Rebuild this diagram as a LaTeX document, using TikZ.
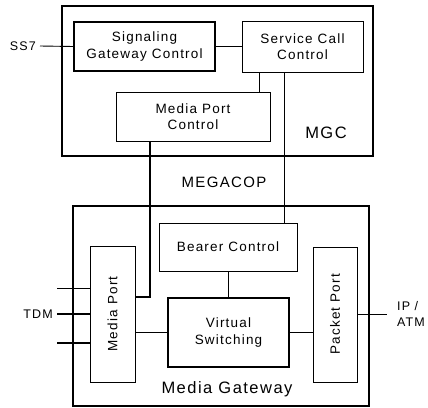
\documentclass[tikz,border=0pt]{standalone}
\usepackage{fontspec}
\setmainfont{Liberation Sans}[LetterSpace=9]
\usepackage{tikz}
\usetikzlibrary{positioning,calc}

\begin{document}
\begin{tikzpicture}[x=1pt,y=-1pt,
    blk/.style = {draw, line width=0.9pt, align=center, inner sep=0pt, font=\fontsize{13.5}{16.3}\selectfont},
    thk/.style = {line width=1.6pt}]
    \useasboundingbox (0,0) rectangle (428,407);
    % MGC side
    \node[draw, line width=1.2pt, minimum width=311, minimum height=150] (MGC) at (217.5,81) {};
    \node[blk, thk, minimum width=141, minimum height=49] (SGC) at (144.5,46.5) {Signaling\\Gateway Control};
    \node[blk, minimum width=121, minimum height=51] (SCC) at (302.5,46.5) {Service Call\\Control};
    \node[blk, minimum width=154, minimum height=49] (MPC) at (193,116.5) {Media Port\\Control};
    \node[font=\fontsize{16.5}{18}\selectfont] (MGCl) at (326,133) {MGC};
    \node[font=\fontsize{12.5}{14}\selectfont, left, inner sep=0pt] (SS7) at (36,46) {SS7};
    \draw[line width=0.9pt] (SS7.east) ++(4,0) -- (SGC.west);
    \draw[line width=0.9pt] (SGC.east) -- (SCC.west);
    \draw[line width=0.9pt] ([xshift=-43.5]SCC.south) -- ([xshift=66]MPC.north);
    % MEGACOP
    \node[font=\fontsize{15}{17}\selectfont] (MEGACOP) at (224,182) {MEGACOP};
    % Media Gateway side
    \node[draw, line width=1.2pt, minimum width=296, minimum height=200] (MG) at (221,306) {};
    \node[blk, minimum width=138, minimum height=48] (BC) at (228,247) {Bearer Control};
    \node[blk, minimum width=45, minimum height=136] (MP) at (112.5,314) {};
    \node[rotate=90, font=\fontsize{13.5}{16}\selectfont] at (MP) {Media Port};
    \node[blk, minimum width=44, minimum height=135] (PP) at (335,314.5) {};
    \node[rotate=90, font=\fontsize{13.5}{16}\selectfont] at (PP) {Packet Port};
    \node[blk, thk, minimum width=121, minimum height=69] (VS) at (228.5,332.5) {Virtual\\Switching};
    \node[font=\fontsize{16.5}{18}\selectfont] (MGl) at (227,389) {Media Gateway};
    \node[font=\fontsize{12.5}{14}\selectfont, left, inner sep=0pt] (TDM) at (53,314) {TDM};
    \node[font=\fontsize{12.5}{16}\selectfont, align=left, right, inner sep=0pt] (IPATM) at (397,314) {IP /\\ATM};
    \draw[line width=0.9pt] ([xshift=-18.5]SCC.south) -- ([xshift=56]BC.north);
    \draw[line width=1.2pt] ([xshift=-43]MPC.south) |- ([yshift=17]MP.east);
    \draw[line width=0.9pt] (BC.south) -- (VS.north -| BC.south);
    \draw[line width=0.9pt] (VS.west) -- (VS.west -| MP.east);
    \draw[line width=0.9pt] (VS.east) -- (VS.east -| PP.west);
    \draw[line width=0.9pt] (PP.east) -- ++(30,0);
    \draw[line width=0.9pt] ([yshift=26]MP.west) -- ++(-33,0);
    \draw[line width=1.4pt] (TDM.east) ++(4,0) -- (MP.west);
    \draw[line width=1.4pt] ([yshift=-29]MP.west) -- ++(-33,0);
\end{tikzpicture}
\end{document}
